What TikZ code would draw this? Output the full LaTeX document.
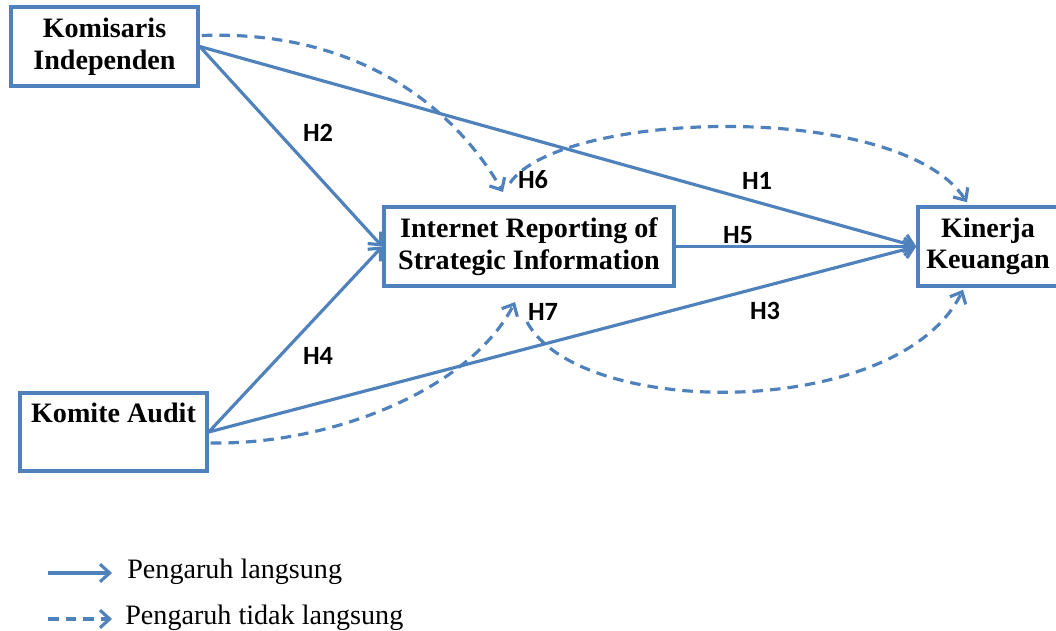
\documentclass[tikz,border=0pt]{standalone}
\usepackage{fontspec}
\setmainfont{Liberation Serif}
\newfontfamily\hfont{Carlito}
\usetikzlibrary{calc, arrows.meta}

\definecolor{lineblue}{HTML}{4F81BD}

\begin{document}
\begin{tikzpicture}[x=0.02cm, y=-0.02cm,
  box/.style={draw=lineblue, line width=2pt, align=center, inner sep=0pt,
    font=\fontsize{16}{18}\selectfont\bfseries},
  dir/.style={draw=lineblue, line width=1.8pt, -{Straight Barb[length=5.5pt,width=10pt]}},
  indir/.style={dir, dash pattern=on 6pt off 4pt},
  hyp/.style={font=\hfont\fontsize{15}{17}\selectfont\bfseries},
  legtext/.style={anchor=base west, inner sep=0pt, font=\fontsize{16}{18}\selectfont}]

\useasboundingbox (0,0) rectangle (1056,631);

% variables
\node[box, minimum width=3.74cm, minimum height=1.58cm] (ki) at (104.5,46.5) {Komisaris\\Independen};
\node[box, minimum width=3.74cm, minimum height=1.56cm] (ka) at (113.5,432) {\strut Komite Audit\\\strut};
\node[box, minimum width=5.8cm, minimum height=1.58cm] (irsi) at (529,246.5) {Internet Reporting of\\Strategic Information};
\node[box, minimum width=2.8cm, minimum height=1.58cm] (kin) at (988,246.5) {Kinerja\\Keuangan};

% direct paths
\draw[dir] (ki.east) -- (kin.west);
\draw[dir] (ki.east) -- (irsi.west);
\draw[dir] (ka.east) -- (irsi.west);
\draw[dir] (ka.east) -- (kin.west);
\draw[dir] (irsi.east) -- (kin.west);

% indirect paths
\coordinate (t6) at (503,192);
\coordinate (s6) at (510,183);
\coordinate (t7) at (515,302);
\coordinate (s7) at (527,322);
\draw[indir] ($(ki.east)+(2,-11)$) .. controls (350,30) and (450,100) .. (t6);
\draw[indir] (s6) .. controls (560,110) and (900,100) .. ($(kin.north)+(-21,-3)$);
\draw[indir] ($(ka.east)+(2,11)$) .. controls (330,445) and (470,390) .. (t7);
\draw[indir] (s7) .. controls (580,420) and (900,420) .. ($(kin.south)+(-25,2)$);

%label hypotheses
\node[hyp] (h1) at (757,181) {H1};
\node[hyp] (h2) at (318,133) {H2};
\node[hyp] (h3) at (765,311) {H3};
\node[hyp] (h4) at (318,356) {H4};
\node[hyp] (h5) at (738,235) {H5};
\node[hyp] (h6) at (533,180) {H6};
\node[hyp] (h7) at (543,312) {H7};

% legend
\coordinate (la) at (48,573);
\coordinate (lb) at (112,573);
\coordinate (lc) at (48,619);
\coordinate (ld) at (112,619);
\draw[dir] (la) -- (lb);
\draw[indir] (lc) -- (ld);
\node[legtext] (leg1) at (127,579) {Pengaruh langsung};
\node[legtext] (leg2) at (125,625) {Pengaruh tidak langsung};

\end{tikzpicture}
\end{document}
